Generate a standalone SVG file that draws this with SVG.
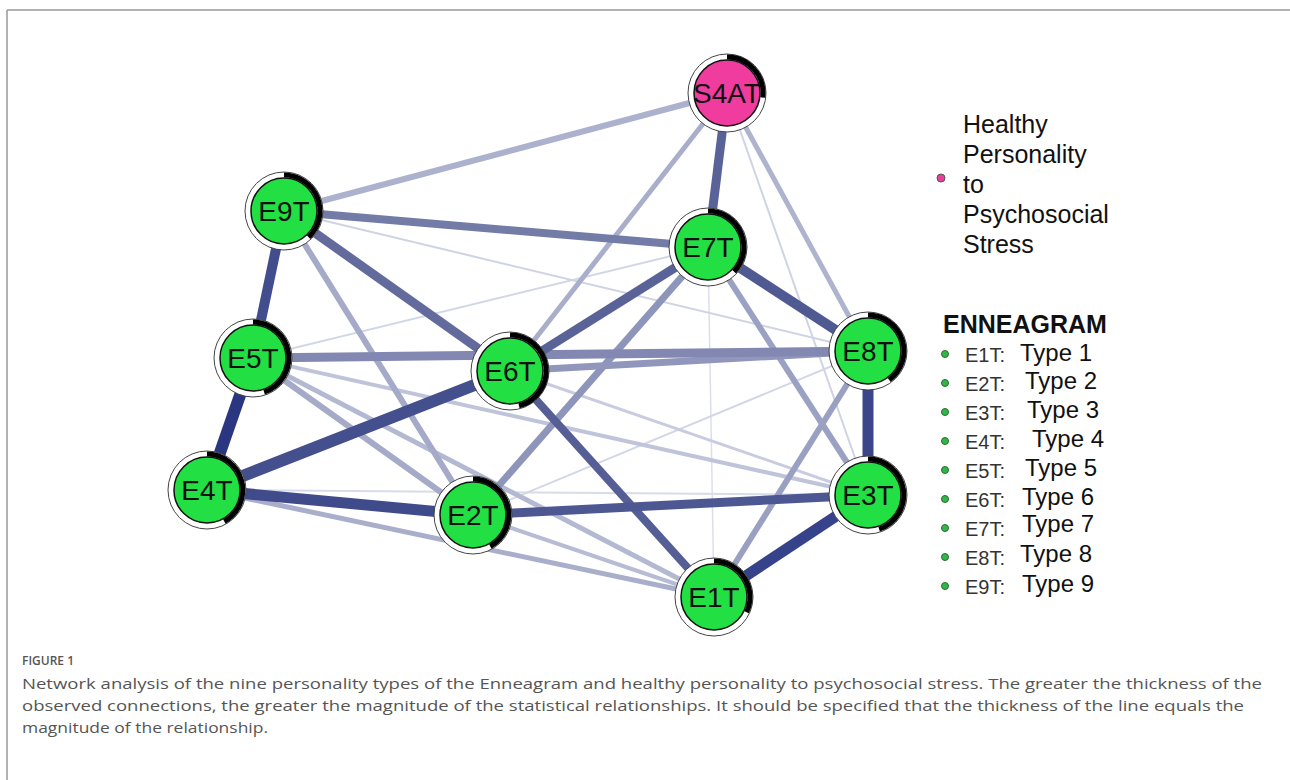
<svg xmlns="http://www.w3.org/2000/svg" width="1290" height="780" viewBox="0 0 1290 780">
<style>
.ring{fill:#fff;stroke:#444;stroke-width:1}
.core{stroke:#111;stroke-width:1.5}
.g{fill:#22e043}
.p{fill:#f03c9f}
.arc{fill:none;stroke:#000;stroke-width:5}
.lbl{font-family:"Liberation Sans",Arial,sans-serif;font-size:28px;fill:#111;text-anchor:middle}
.lg{font-family:"Liberation Sans",Arial,sans-serif;font-size:24px;fill:#111}
.lh{font-family:"Liberation Sans",Arial,sans-serif;font-size:25px;fill:#111}
.lk{font-family:"Liberation Sans",Arial,sans-serif;font-size:20px;fill:#333}
.cap{font-family:"Open Sans","Liberation Sans",sans-serif;font-size:15px;fill:#555}
.e line{stroke-linecap:butt}
</style>
<rect x="0" y="0" width="1290" height="780" fill="#fff"/>
<g id="frame" stroke="#999" stroke-width="1.5" fill="none">
<line x1="7" y1="10" x2="1290" y2="10"/>
<line x1="7" y1="10" x2="7" y2="780"/>
</g>
<g id="edges" class="e">
<line x1="708" y1="247" x2="714" y2="597" stroke="#dcdfeb" stroke-width="1.5"/>
<line x1="727" y1="93" x2="868" y2="495" stroke="#d0d3e4" stroke-width="2"/>
<line x1="207" y1="490" x2="868" y2="495" stroke="#d8dbe8" stroke-width="2"/>
<line x1="473" y1="515" x2="868" y2="351" stroke="#d3d6e6" stroke-width="2"/>
<line x1="253" y1="358" x2="708" y2="247" stroke="#d3d6e6" stroke-width="2"/>
<line x1="284" y1="211" x2="868" y2="351" stroke="#d0d3e4" stroke-width="2"/>
<line x1="510" y1="371" x2="868" y2="495" stroke="#c9cce0" stroke-width="3"/>
<line x1="473" y1="515" x2="714" y2="597" stroke="#b7bcd4" stroke-width="4"/>
<line x1="253" y1="358" x2="868" y2="495" stroke="#c0c4da" stroke-width="4"/>
<line x1="253" y1="358" x2="714" y2="597" stroke="#b4b9d2" stroke-width="5"/>
<line x1="253" y1="358" x2="473" y2="515" stroke="#a4aac8" stroke-width="6"/>
<line x1="207" y1="490" x2="714" y2="597" stroke="#a9aecb" stroke-width="5"/>
<line x1="727" y1="93" x2="510" y2="371" stroke="#a9aecb" stroke-width="5"/>
<line x1="727" y1="93" x2="868" y2="351" stroke="#aeb3ce" stroke-width="5"/>
<line x1="727" y1="93" x2="284" y2="211" stroke="#acb1cd" stroke-width="6"/>
<line x1="284" y1="211" x2="473" y2="515" stroke="#a4aac8" stroke-width="6"/>
<line x1="868" y1="351" x2="714" y2="597" stroke="#9aa0c2" stroke-width="6"/>
<line x1="708" y1="247" x2="868" y2="495" stroke="#9ba1c3" stroke-width="6"/>
<line x1="473" y1="515" x2="708" y2="247" stroke="#8e95ba" stroke-width="7"/>
<line x1="510" y1="371" x2="868" y2="351" stroke="#9197bc" stroke-width="7"/>
<line x1="253" y1="358" x2="868" y2="351" stroke="#8288b2" stroke-width="9"/>
<line x1="284" y1="211" x2="708" y2="247" stroke="#737ba7" stroke-width="8"/>
<line x1="727" y1="93" x2="708" y2="247" stroke="#5a6398" stroke-width="9"/>
<line x1="284" y1="211" x2="510" y2="371" stroke="#626b9c" stroke-width="9"/>
<line x1="510" y1="371" x2="708" y2="247" stroke="#5a6398" stroke-width="9"/>
<line x1="510" y1="371" x2="714" y2="597" stroke="#555f96" stroke-width="8"/>
<line x1="708" y1="247" x2="868" y2="351" stroke="#4f5a92" stroke-width="10"/>
<line x1="473" y1="515" x2="868" y2="495" stroke="#4d5892" stroke-width="9"/>
<line x1="284" y1="211" x2="253" y2="358" stroke="#414d8c" stroke-width="10"/>
<line x1="207" y1="490" x2="473" y2="515" stroke="#404b8b" stroke-width="11"/>
<line x1="207" y1="490" x2="510" y2="371" stroke="#444f8d" stroke-width="12"/>
<line x1="868" y1="495" x2="714" y2="597" stroke="#36438a" stroke-width="11"/>
<line x1="868" y1="351" x2="868" y2="495" stroke="#3a4689" stroke-width="11"/>
<line x1="253" y1="358" x2="207" y2="490" stroke="#2a3780" stroke-width="12"/>
</g>
<g id="S4AT">
<circle class="ring" cx="727" cy="93" r="39"/>
<path class="arc" d="M727 57 A36 36 0 0 1 762.7 97.5"/>
<circle class="core p" cx="727" cy="93" r="33"/>
<text class="lbl" x="727" y="103">S4AT</text>
</g>
<g id="E9T">
<circle class="ring" cx="284" cy="211" r="39"/>
<path class="arc" d="M284 175 A36 36 0 0 1 308.7 237.2"/>
<circle class="core g" cx="284" cy="211" r="33"/>
<text class="lbl" x="284" y="221">E9T</text>
</g>
<g id="E7T">
<circle class="ring" cx="708" cy="247" r="39"/>
<path class="arc" d="M708 211 A36 36 0 0 1 734.2 271.7"/>
<circle class="core g" cx="708" cy="247" r="33"/>
<text class="lbl" x="708" y="257">E7T</text>
</g>
<g id="E5T">
<circle class="ring" cx="253" cy="358" r="39"/>
<path class="arc" d="M253 322 A36 36 0 0 1 264.1 392.2"/>
<circle class="core g" cx="253" cy="358" r="33"/>
<text class="lbl" x="253" y="368">E5T</text>
</g>
<g id="E6T">
<circle class="ring" cx="510" cy="371" r="39"/>
<path class="arc" d="M510 335 A36 36 0 0 1 519 405.9"/>
<circle class="core g" cx="510" cy="371" r="33"/>
<text class="lbl" x="510" y="381">E6T</text>
</g>
<g id="E8T">
<circle class="ring" cx="868" cy="351" r="39"/>
<path class="arc" d="M868 315 A36 36 0 0 1 889.2 380.1"/>
<circle class="core g" cx="868" cy="351" r="33"/>
<text class="lbl" x="868" y="361">E8T</text>
</g>
<g id="E4T">
<circle class="ring" cx="207" cy="490" r="39"/>
<path class="arc" d="M207 454 A36 36 0 0 1 224.3 521.5"/>
<circle class="core g" cx="207" cy="490" r="33"/>
<text class="lbl" x="207" y="500">E4T</text>
</g>
<g id="E2T">
<circle class="ring" cx="473" cy="515" r="39"/>
<path class="arc" d="M473 479 A36 36 0 0 1 490.3 546.5"/>
<circle class="core g" cx="473" cy="515" r="33"/>
<text class="lbl" x="473" y="525">E2T</text>
</g>
<g id="E3T">
<circle class="ring" cx="868" cy="495" r="39"/>
<path class="arc" d="M868 459 A36 36 0 0 1 879.1 529.2"/>
<circle class="core g" cx="868" cy="495" r="33"/>
<text class="lbl" x="868" y="505">E3T</text>
</g>
<g id="E1T">
<circle class="ring" cx="714" cy="597" r="39"/>
<path class="arc" d="M714 561 A36 36 0 0 1 746.6 612.3"/>
<circle class="core g" cx="714" cy="597" r="33"/>
<text class="lbl" x="714" y="607">E1T</text>
</g>
<g id="legend">
<circle cx="941" cy="178" r="4" fill="#e8409a" stroke="#555" stroke-width="1"/>
<text class="lh" x="963" y="133">Healthy</text>
<text class="lh" x="963" y="163">Personality</text>
<text class="lh" x="963" y="193">to</text>
<text class="lh" x="963" y="223">Psychosocial</text>
<text class="lh" x="963" y="253">Stress</text>
<text x="943" y="333" font-family="Liberation Sans,Arial,sans-serif" font-size="25" font-weight="bold" fill="#111">ENNEAGRAM</text>
<g fill="#2eb84a" stroke="#336633" stroke-width="1">
<circle cx="945" cy="354" r="3.5"/>
<circle cx="945" cy="383" r="3.5"/>
<circle cx="945" cy="412" r="3.5"/>
<circle cx="945" cy="441" r="3.5"/>
<circle cx="945" cy="470" r="3.5"/>
<circle cx="945" cy="499" r="3.5"/>
<circle cx="945" cy="528" r="3.5"/>
<circle cx="945" cy="557" r="3.5"/>
<circle cx="945" cy="586" r="3.5"/>
</g>
<text class="lk" x="965" y="362">E1T:</text><text class="lg" x="1020" y="361">Type 1</text>
<text class="lk" x="965" y="391">E2T:</text><text class="lg" x="1025" y="389">Type 2</text>
<text class="lk" x="965" y="420">E3T:</text><text class="lg" x="1027" y="418">Type 3</text>
<text class="lk" x="965" y="449">E4T:</text><text class="lg" x="1032" y="447">Type 4</text>
<text class="lk" x="965" y="478">E5T:</text><text class="lg" x="1025" y="476">Type 5</text>
<text class="lk" x="965" y="507">E6T:</text><text class="lg" x="1022" y="505">Type 6</text>
<text class="lk" x="965" y="536">E7T:</text><text class="lg" x="1022" y="532">Type 7</text>
<text class="lk" x="965" y="565">E8T:</text><text class="lg" x="1020" y="562">Type 8</text>
<text class="lk" x="965" y="594">E9T:</text><text class="lg" x="1022" y="592">Type 9</text>
</g>
<g id="caption">
<text x="22" y="665" font-family="Open Sans,Liberation Sans,sans-serif" font-size="12" font-weight="600" fill="#555">FIGURE 1</text>
<text class="cap" x="22" y="689" textLength="1240" lengthAdjust="spacingAndGlyphs">Network analysis of the nine personality types of the Enneagram and healthy personality to psychosocial stress. The greater the thickness of the</text>
<text class="cap" x="22" y="711" textLength="1222" lengthAdjust="spacingAndGlyphs">observed connections, the greater the magnitude of the statistical relationships. It should be specified that the thickness of the line equals the</text>
<text class="cap" x="22" y="733" textLength="246" lengthAdjust="spacingAndGlyphs">magnitude of the relationship.</text>
</g>
</svg>
